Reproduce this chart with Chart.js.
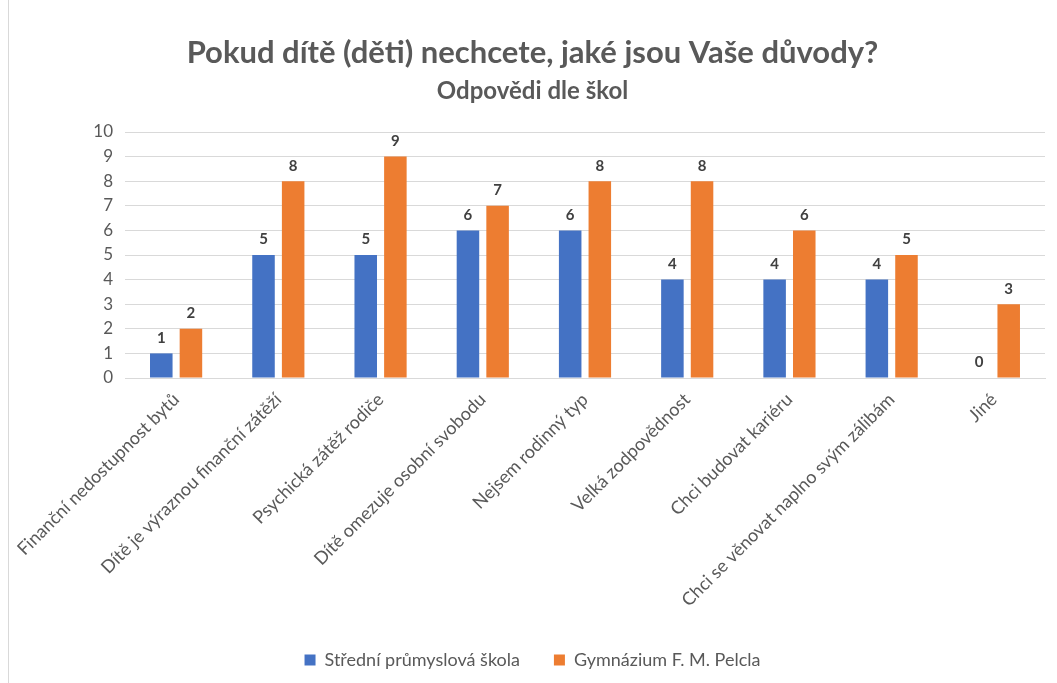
<!DOCTYPE html>
<html>
<head>
<meta charset="utf-8">
<script src="https://cdn.jsdelivr.net/npm/chart.js@4"></script>
<style>
    html, body { margin: 0; padding: 0; background: #fff; }
    .frame {
        position: absolute; left: 8px; top: -1px;
        width: 1060px; height: 690px;
        border: 1px solid #d9d9d9; box-sizing: border-box;
    }
    .wrap { position: absolute; left: 0; top: 0; width: 1057px; height: 683px; }
</style>
</head>
<body>
<div class="frame"></div>
<div class="wrap"><canvas id="chart" width="1057" height="683"></canvas></div>
<script>
const categories = [
    "Finanční nedostupnost bytů",
    "Dítě je výraznou finanční zátěží",
    "Psychická zátěž rodiče",
    "Dítě omezuje osobní svobodu",
    "Nejsem rodinný typ",
    "Velká zodpovědnost",
    "Chci budovat kariéru",
    "Chci se věnovat naplno svým zálibám",
    "Jiné"
];
const spsValues = [1, 5, 5, 6, 6, 4, 4, 4, 0];
const gymValues = [2, 8, 9, 7, 8, 8, 6, 5, 3];
const seriesNames = ["Střední průmyslová škola", "Gymnázium F. M. Pelcla"];

const FONT = "Lato, 'Open Sans', sans-serif";

// draws value labels above each bar
const valueLabels = {
    id: "valueLabels",
    afterDatasetsDraw(chart) {
        const ctx = chart.ctx;
        ctx.save();
        ctx.font = "bold 15px " + FONT;
        ctx.fillStyle = "#404040";
        ctx.textAlign = "center";
        ctx.textBaseline = "bottom";
        chart.data.datasets.forEach((ds, i) => {
            chart.getDatasetMeta(i).data.forEach((bar, j) => {
                ctx.fillText(ds.data[j], bar.x, bar.y - 8);
            });
        });
        ctx.restore();
    }
};

new Chart(document.getElementById("chart"), {
    type: "bar",
    data: {
        labels: categories,
        datasets: [
            { label: seriesNames[0], data: spsValues, backgroundColor: "#4472c4" },
            { label: seriesNames[1], data: gymValues, backgroundColor: "#ed7d31" }
        ]
    },
    options: {
        responsive: false,
        animation: false,
        datasets: { bar: { categoryPercentage: 0.58, barPercentage: 0.76 } },
        layout: { padding: { left: 20, right: 12, top: 12, bottom: 4 } },
        plugins: {
            title: {
                display: true,
                text: "Pokud dítě (děti) nechcete, jaké jsou Vaše důvody?",
                color: "#595959",
                font: { family: FONT, size: 31, weight: "bold" },
                padding: { top: 22, bottom: 6 }
            },
            subtitle: {
                display: true,
                text: "Odpovědi dle škol",
                color: "#595959",
                font: { family: FONT, size: 24, weight: "bold" },
                padding: { top: 0, bottom: 26 }
            },
            legend: {
                position: "bottom",
                labels: {
                    color: "#595959",
                    font: { family: FONT, size: 18 },
                    boxWidth: 11, boxHeight: 11, padding: 34
                }
            },
            tooltip: { enabled: false }
        },
        scales: {
            x: {
                grid: { display: false },
                border: { color: "#d9d9d9" },
                ticks: {
                    color: "#595959",
                    font: { family: FONT, size: 18 },
                    minRotation: 45, maxRotation: 45, autoSkip: false
                },
                afterFit(scale) { scale.height = 239; }
            },
            y: {
                min: 0, max: 10,
                ticks: { stepSize: 1, color: "#595959", font: { family: FONT, size: 17 }, padding: 12 },
                grid: { color: "#d9d9d9", drawTicks: false },
                border: { display: false },
                afterFit(scale) { scale.width = 105; }
            }
        }
    },
    plugins: [valueLabels]
});
</script>
</body>
</html>
